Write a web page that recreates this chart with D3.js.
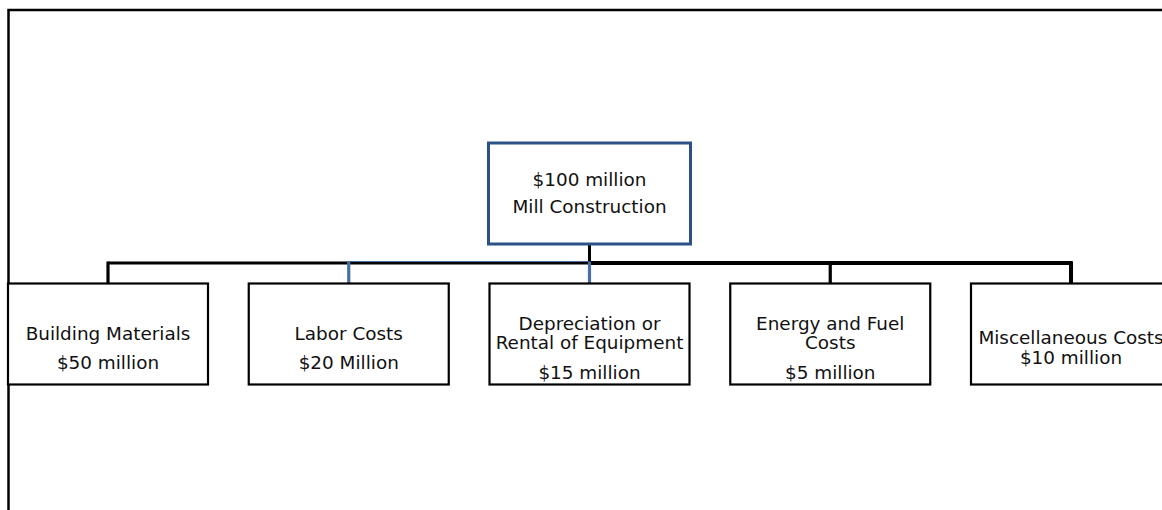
<!DOCTYPE html>
<html lang="en">
<head>
  <meta charset="UTF-8">
  <title>Mill Construction Costs</title>
  <script src="https://cdn.jsdelivr.net/npm/d3@7"></script>
</head>
<style>
    body { margin: 0; background: #fff; }
    text {
      fill: #111;
      font: 18.4px "DejaVu Sans", Verdana, sans-serif;
    }
</style>
<body>
<svg width="1162" height="510"></svg>
<script>

    // data
    var rootLines = ["$100 million", "Mill Construction"];
    var categories = ["Building Materials", "Labor Costs", "Depreciation or Rental of Equipment",
                      "Energy and Fuel Costs", "Miscellaneous Costs"];
    var nameLines = [["Building Materials"], ["Labor Costs"], ["Depreciation or", "Rental of Equipment"],
                     ["Energy and Fuel", "Costs"], ["Miscellaneous Costs"]];
    var amountLabels = ["$50 million", "$20 Million", "$15 million", "$5 million", "$10 million"];

    var svg = d3.select("svg");
    var blue = "#2b5186", lightBlue = "#4a70a3";

    // outer frame (runs off the right/bottom edges)
    svg.append("rect")
        .attr("x", 8.5).attr("y", 10)
        .attr("width", 1200).attr("height", 600)
        .attr("fill", "none").attr("stroke", "#000").attr("stroke-width", 2.5);

    var boxW = 200, boxH = 101;
    var x = d3.scalePoint().domain(categories).range([108, 1071]);
    var rootX = 589.5, rootTop = 142, rootW = 202, childTop = 283.5, busY = 263;

    // connectors
    var g = svg.append("g");
    g.append("line")
        .attr("x1", x(categories[0])).attr("x2", rootX)
        .attr("y1", busY).attr("y2", busY)
        .attr("stroke", "#000").attr("stroke-width", 3);
    g.append("line")
        .attr("x1", rootX).attr("x2", x(categories[4]) + 1.5)
        .attr("y1", busY).attr("y2", busY)
        .attr("stroke", "#000").attr("stroke-width", 4);
    g.append("line")
        .attr("x1", x(categories[1]) - 1.5).attr("x2", rootX)
        .attr("y1", busY - 1.5).attr("y2", busY - 1.5)
        .attr("stroke", lightBlue).attr("stroke-width", 1.2);
    g.append("line")
        .attr("x1", rootX).attr("x2", rootX)
        .attr("y1", rootTop + boxH).attr("y2", busY + 1)
        .attr("stroke", "#000").attr("stroke-width", 3);

    var highlight = [1, 2];
    g.selectAll(".drop")
        .data(categories)
        .enter().append("line")
          .attr("class", "drop")
          .attr("x1", function(d) { return x(d); })
          .attr("x2", function(d) { return x(d); })
          .attr("y1", busY - 1.5)
          .attr("y2", childTop)
          .attr("stroke", function(d, i) { return highlight.includes(i) ? lightBlue : "#000"; })
          .attr("stroke-width", function(d, i) { return i === 4 ? 4 : 3.2; });

    // root box
    svg.append("rect")
        .attr("x", rootX - rootW / 2).attr("y", rootTop + 1)
        .attr("width", rootW).attr("height", boxH)
        .attr("fill", "#fff").attr("stroke", blue).attr("stroke-width", 3);

    svg.selectAll(".root-label")
        .data(rootLines)
        .enter().append("text")
          .attr("class", "root-label")
          .attr("x", rootX)
          .attr("y", function(d, i) { return rootTop + 37 + i * 27.5; })
          .attr("text-anchor", "middle")
          .attr("dominant-baseline", "central")
          .text(function(d) { return d; });

    // child boxes
    var nodes = svg.selectAll(".child")
        .data(categories)
        .enter().append("g")
          .attr("class", "child")
          .attr("transform", function(d) { return "translate(" + x(d) + "," + childTop + ")"; });

    nodes.append("rect")
        .attr("x", -boxW / 2).attr("y", 0)
        .attr("width", boxW).attr("height", boxH)
        .attr("fill", "#fff").attr("stroke", "#000").attr("stroke-width", 2.2);

    nodes.each(function(d, i) {
        var node = d3.select(this);
        var lines = nameLines[i];
        var ys;
        if (lines.length === 2) ys = [39.5, 58.5, 88.5];
        else if (i === 4) ys = [53.5, 74];
        else ys = [50, 79];
        lines.concat([amountLabels[i]]).forEach(function(t, j) {
            node.append("text")
                .attr("x", 0)
                .attr("y", ys[j])
                .attr("text-anchor", "middle")
                .attr("dominant-baseline", "central")
                .text(t);
        });
    });

</script>
</body>
</html>
